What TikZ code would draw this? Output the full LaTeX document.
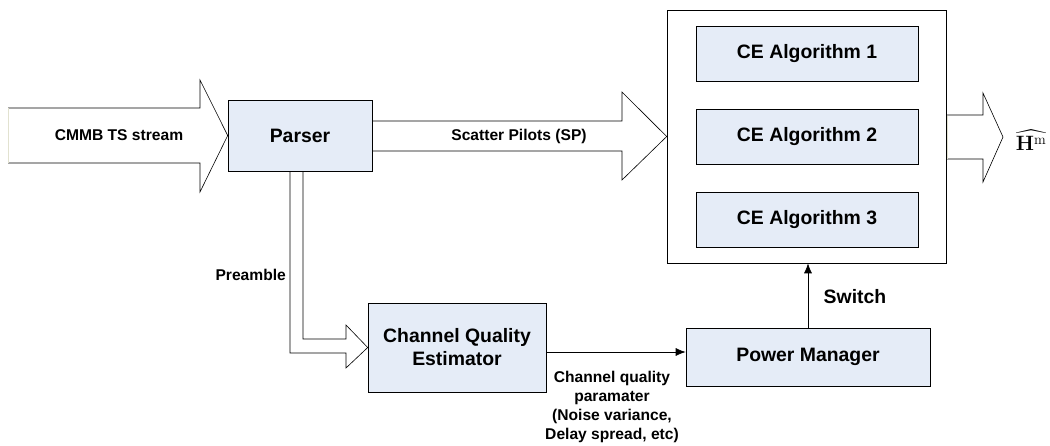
\documentclass[tikz,border=0pt]{standalone}
\usepackage{amsmath}
\usepackage[no-math]{fontspec}
\setmainfont{Liberation Sans}
\usepackage{xcolor}
\usetikzlibrary{arrows.meta, positioning, calc}

\definecolor{boxfill}{RGB}{229,236,247}
\definecolor{edgepale}{RGB}{226,226,208}

\begin{document}
\begin{tikzpicture}[x=1pt, y=-1pt,
    box/.style={draw, fill=boxfill, line width=0.6pt, inner sep=0pt, align=center,
                font=\fontsize{19.4}{22}\selectfont\bfseries},
    blockarrow/.style={draw, line width=0.6pt, line join=miter},
    lbl/.style={inner sep=0pt, align=center, font=\fontsize{15.6}{19}\selectfont\bfseries},
    sig/.style={line width=0.7pt, -{Latex[length=10pt, width=8pt]}}]
    \useasboundingbox (0,0) rectangle (1050,445);

    % Blocks
    \node[box, minimum width=144pt, minimum height=71pt] (parser) at (300,135.5) {Parser};
    \node[draw, line width=0.6pt, minimum width=279pt, minimum height=253pt] (cebank) at (806.5,136.5) {};
    \node[box, minimum width=222pt, minimum height=55pt] (ce1) at (807,53.5) {CE Algorithm 1};
    \node[box, minimum width=222pt, minimum height=55pt] (ce2) at (807,136.5) {CE Algorithm 2};
    \node[box, minimum width=222pt, minimum height=55pt] (ce3) at (807,219.5) {CE Algorithm 3};
    \node[box, minimum width=178pt, minimum height=89pt] (cqe) at (457,347.5) {Channel Quality\\[1pt]Estimator};
    \node[box, minimum width=244pt, minimum height=58pt] (pm) at (808,357) {Power Manager};

    % Input stream
    \draw[blockarrow] (8,108) -- (200,108) -- (200,80) -- (parser.west) -- (200,192) -- (200,163) -- (8,163);
    \draw[edgepale, line width=1pt] (8,108) -- (8,163);
    \node[lbl] (stream) at (119,135) {CMMB TS stream};

    % Scatter pilots
    \draw[blockarrow] ($(parser.east)+(0,-14.5)$) -- (622,121) -- (622,92) -- (cebank.west)
        -- (622,180) -- (622,151) -- ($(parser.east)+(0,15.5)$);
    \node[lbl] (sp) at (519,136) {Scatter Pilots (SP)};

    % Preamble
    \draw[blockarrow] (290,171) -- (290,353) -- (346,353) -- (346,368) -- (cqe.west)
        -- (346,325) -- (346,339) -- (303,339) -- (303,171);
    \node[lbl, anchor=east] (pre) at (286,275) {Preamble};

    % Output
    \draw[blockarrow] ($(cebank.east)+(0,-21.5)$) -- (983,115) -- (983,93) -- (1003,137)
        -- (983,182) -- (983,159) -- ($(cebank.east)+(0,22.5)$);
    \draw[edgepale, line width=1pt] ($(cebank.east)+(0.8,-21)$) -- ($(cebank.east)+(0.8,22)$);
    \node[inner sep=0pt, font=\fontsize{20}{24}\selectfont] (hm) at (1031,140) {$\widehat{\mathbf{H}^{\mathrm{m}}}$};

    % Control signals
    \coordinate (q) at (600,352);
    \draw[sig] (cqe.east |- q) -- (pm.west |- q);
    \node[lbl, anchor=north] (cqp) at (612,371) {Channel quality\\paramater\\(Noise variance,\\Delay spread, etc)};
    \draw[sig] (pm.north) -- (pm.north |- cebank.south);
    \node[box, draw=none, fill=none] (sw) at (855,297) {Switch};
\end{tikzpicture}
\end{document}
